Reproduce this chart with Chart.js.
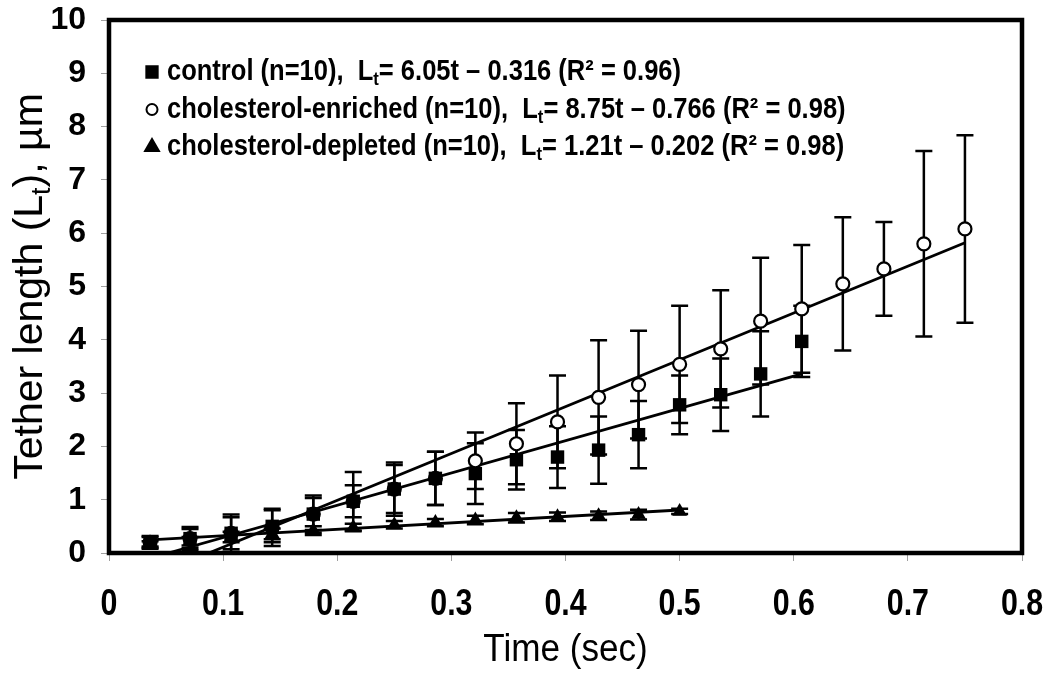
<!DOCTYPE html>
<html>
<head>
<meta charset="utf-8">
<script src="https://cdn.jsdelivr.net/npm/chart.js@4.4.0/dist/chart.umd.min.js"></script>
<style>
  html, body { margin: 0; padding: 0; background: #fff; }
  #wrap { width: 1050px; height: 676px; }
</style>
</head>
<body>
<div id="wrap"><canvas id="chart" width="1050" height="676"></canvas></div>
<script>
// sample times (s)
const times = [0.036, 0.071, 0.107, 0.143, 0.179, 0.214, 0.25, 0.286, 0.321, 0.357, 0.393,
               0.429, 0.464, 0.5, 0.536, 0.571, 0.607, 0.643, 0.679, 0.714, 0.75];

// tether length means and error (um)
const controlMean = [0.20, 0.27, 0.37, 0.50, 0.73, 0.97, 1.20, 1.40, 1.49, 1.75, 1.80, 1.93, 2.22, 2.78, 2.97, 3.36, 3.97];
const controlErr  = [0.12, 0.18, 0.35, 0.30, 0.35, 0.30, 0.45, 0.50, 0.57, 0.56, 0.58, 0.63, 0.63, 0.55, 0.68, 0.80, 0.67];

const enrichedMean = [0.20, 0.27, 0.37, 0.48, 0.73, 0.97, 1.20, 1.40, 1.73, 2.05, 2.46, 2.92, 3.16, 3.54, 3.83, 4.35, 4.58, 5.05, 5.33, 5.80, 6.08];
const enrichedErr  = [0.10, 0.22, 0.30, 0.35, 0.30, 0.55, 0.50, 0.50, 0.53, 0.76, 0.87, 1.07, 1.01, 1.10, 1.10, 1.19, 1.20, 1.25, 0.88, 1.74, 1.76];

const depletedMean = [0.17, 0.22, 0.30, 0.36, 0.42, 0.48, 0.53, 0.57, 0.62, 0.66, 0.68, 0.70, 0.72, 0.78];
const depletedErr  = [0.05, 0.08, 0.10, 0.10, 0.08, 0.07, 0.07, 0.07, 0.08, 0.09, 0.08, 0.08, 0.09, 0.05];

// fitted lines, end points
const controlFit  = [[0.052, 0], [0.607, 3.36]];
const enrichedFit = [[0.0875, 0], [0.75, 5.82]];
const depletedFit = [[0.036, 0.245], [0.5, 0.807]];

const xTickLabels = ['0', '0.1', '0.2', '0.3', '0.4', '0.5', '0.6', '0.7', '0.8'];

const legendLines = [
  ['control (n=10),  L', 't', '= 6.05t \u2013 0.316 (R\u00b2 = 0.96)'],
  ['cholesterol-enriched (n=10),  L', 't', '= 8.75t \u2013 0.766 (R\u00b2 = 0.98)'],
  ['cholesterol-depleted (n=10),  L', 't', '= 1.21t \u2013 0.202 (R\u00b2 = 0.98)']
];
const legendMarkers = ['rect', 'circle', 'triangle'];
const yTitle = ['Tether length (L', 't', '), \u00b5m'];
const xTitle = 'Time (sec)';

const FONT = '"Liberation Sans", Arial, sans-serif';

function pts(means) {
  return means.map((v, i) => ({ x: times[i], y: v }));
}
function line(fit) {
  return fit.map(p => ({ x: p[0], y: p[1] }));
}

// text drawn narrower than the font, like the condensed face in the figure
function fillScaled(ctx, text, x, y, sx) {
  ctx.save();
  ctx.translate(x, y);
  ctx.scale(sx, 1);
  ctx.fillText(text, 0, 0);
  ctx.restore();
}

// [before, sub, after] with the middle part as subscript
function subTextWidth(ctx, parts, size, weight) {
  ctx.font = `${weight} ${size}px ${FONT}`;
  let w = ctx.measureText(parts[0]).width + ctx.measureText(parts[2]).width;
  ctx.font = `${weight} ${Math.round(size * 0.65)}px ${FONT}`;
  return w + ctx.measureText(parts[1]).width;
}
function drawSubText(ctx, parts, x, y, size, weight, sx) {
  ctx.save();
  ctx.translate(x, y);
  ctx.scale(sx, 1);
  let cx = 0;
  ctx.font = `${weight} ${size}px ${FONT}`;
  ctx.fillText(parts[0], cx, 0);
  cx += ctx.measureText(parts[0]).width;
  ctx.font = `${weight} ${Math.round(size * 0.65)}px ${FONT}`;
  ctx.fillText(parts[1], cx, size * 0.28);
  cx += ctx.measureText(parts[1]).width;
  ctx.font = `${weight} ${size}px ${FONT}`;
  ctx.fillText(parts[2], cx, 0);
  ctx.restore();
}

const errorBars = {
  id: 'errorBars',
  beforeDatasetsDraw(chart) {
    const { ctx, chartArea, scales: { x, y } } = chart;
    ctx.save();
    ctx.beginPath();
    ctx.rect(chartArea.left, chartArea.top, chartArea.right - chartArea.left, chartArea.bottom - chartArea.top);
    ctx.clip();
    ctx.strokeStyle = '#000';
    ctx.lineWidth = 2.5;
    chart.data.datasets.forEach(ds => {
      if (!ds.err) return;
      ds.data.forEach((p, i) => {
        const px = x.getPixelForValue(p.x);
        const top = y.getPixelForValue(p.y + ds.err[i]);
        const bot = y.getPixelForValue(p.y - ds.err[i]);
        ctx.beginPath();
        ctx.moveTo(px, top); ctx.lineTo(px, bot);
        ctx.moveTo(px - 8.5, top); ctx.lineTo(px + 8.5, top);
        ctx.moveTo(px - 8.5, bot); ctx.lineTo(px + 8.5, bot);
        ctx.stroke();
      });
    });
    ctx.restore();
  }
};

const frameAndText = {
  id: 'frameAndText',
  afterDraw(chart) {
    const { ctx, chartArea } = chart;
    ctx.save();
    ctx.strokeStyle = '#000';
    ctx.lineWidth = 4.5;
    ctx.strokeRect(chartArea.left, chartArea.top, chartArea.right - chartArea.left, chartArea.bottom - chartArea.top);

    ctx.fillStyle = '#000';
    ctx.textBaseline = 'middle';

    // x tick labels
    ctx.textAlign = 'center';
    ctx.font = `bold 37px ${FONT}`;
    const xs = chart.scales.x;
    xTickLabels.forEach(lab => {
      fillScaled(ctx, lab, xs.getPixelForValue(parseFloat(lab)), 605, 0.82);
    });

    // legend
    ctx.textAlign = 'left';
    legendLines.forEach((parts, i) => {
      const ly = 72 + i * 37.5;
      const style = legendMarkers[i];
      ctx.lineWidth = 2;
      ctx.fillStyle = style === 'circle' ? '#fff' : '#000';
      Chart.helpers.drawPoint(ctx, { pointStyle: style, radius: style === 'circle' ? 5.5 : 8, borderWidth: 2 }, chartArea.left + 43, ly);
      ctx.fillStyle = '#000';
      drawSubText(ctx, parts, chartArea.left + 58, ly, 29, 'bold', 0.88);
    });

    // axis titles
    const midY = (chartArea.top + chartArea.bottom) / 2;
    ctx.save();
    ctx.translate(31, midY);
    ctx.rotate(-Math.PI / 2);
    const w = subTextWidth(ctx, yTitle, 41, 'normal');
    drawSubText(ctx, yTitle, -w / 2, 0, 41, 'normal', 1);
    ctx.restore();

    ctx.textAlign = 'center';
    ctx.font = `normal 39px ${FONT}`;
    fillScaled(ctx, xTitle, (chartArea.left + chartArea.right) / 2, 650, 0.9);
    ctx.restore();
  }
};

new Chart(document.getElementById('chart'), {
  type: 'scatter',
  data: {
    datasets: [
      { label: 'control', data: pts(controlMean), err: controlErr, pointStyle: 'rect', pointRadius: 9.5,
        backgroundColor: '#000', borderColor: '#000', borderWidth: 0 },
      { label: 'cholesterol-depleted', data: pts(depletedMean), err: depletedErr, pointStyle: 'triangle', pointRadius: 8.5,
        backgroundColor: '#000', borderColor: '#000', borderWidth: 0 },
      { label: 'cholesterol-enriched', data: pts(enrichedMean), err: enrichedErr, pointStyle: 'circle', pointRadius: 6.5,
        backgroundColor: '#fff', borderColor: '#000', borderWidth: 2.2 },
      { type: 'line', data: line(controlFit), showLine: true, pointRadius: 0, borderColor: '#000', borderWidth: 2.8 },
      { type: 'line', data: line(enrichedFit), showLine: true, pointRadius: 0, borderColor: '#000', borderWidth: 2.8 },
      { type: 'line', data: line(depletedFit), showLine: true, pointRadius: 0, borderColor: '#000', borderWidth: 2.8 }
    ]
  },
  options: {
    responsive: false,
    animation: false,
    layout: { padding: { top: 20, right: 28, left: 0, bottom: 0 } },
    plugins: { legend: { display: false }, tooltip: { enabled: false } },
    scales: {
      x: {
        type: 'linear', min: 0, max: 0.8,
        ticks: { stepSize: 0.1, display: false },
        grid: { drawOnChartArea: false, drawTicks: true, tickLength: 8, color: '#a0a0a0' },
        border: { display: false },
        afterFit(scale) { scale.height = 123; scale.paddingLeft = 0; scale.paddingRight = 0; }
      },
      y: {
        type: 'linear', min: 0, max: 10,
        ticks: { stepSize: 1, color: '#000', padding: 15, font: { family: FONT, weight: 'bold', size: 32 } },
        grid: { drawOnChartArea: false, drawTicks: true, tickLength: 8, color: '#a0a0a0' },
        border: { display: false },
        afterFit(scale) { scale.width = 109; scale.paddingTop = 0; scale.paddingBottom = 0; }
      }
    }
  },
  plugins: [errorBars, frameAndText]
});
</script>
</body>
</html>
